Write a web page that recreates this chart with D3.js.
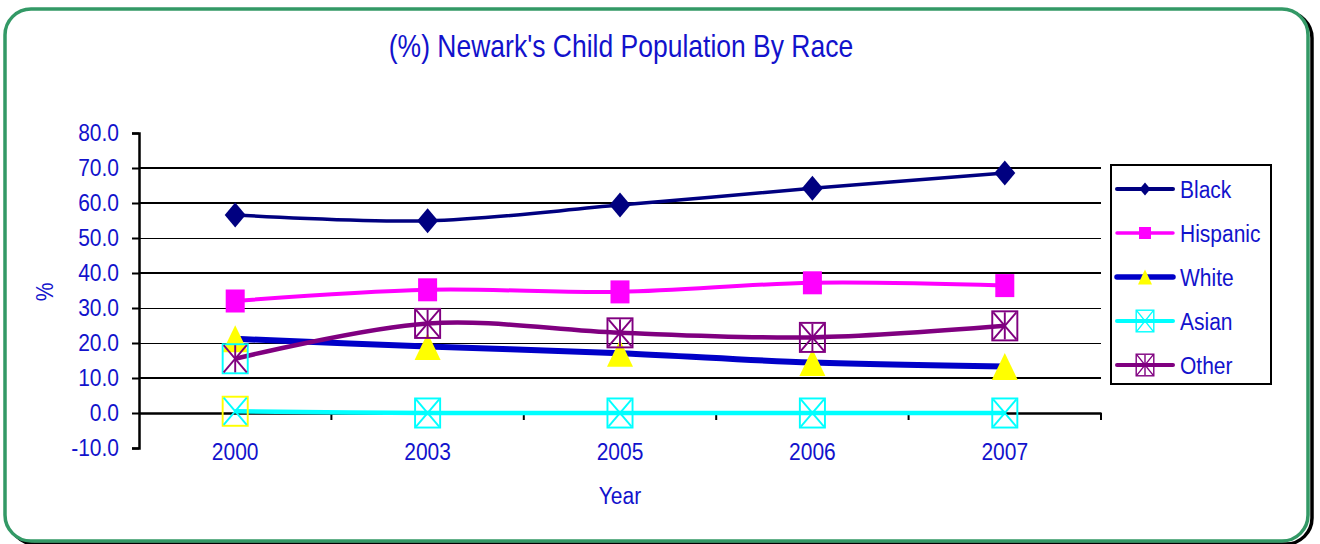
<!DOCTYPE html>
<html>
<head>
<meta charset="utf-8">
<script src="https://cdnjs.cloudflare.com/ajax/libs/d3/7.8.5/d3.min.js"></script>
<style>
  html, body { margin: 0; padding: 0; background: #ffffff; }
  svg { display: block; }
  text { font-family: "Liberation Sans", Arial, sans-serif; }
</style>
</head>
<body>
<svg id="chart" width="1320" height="544"></svg>
<script>
// ---- data ----
const years = ["2000", "2003", "2005", "2006", "2007"];
const black = [56.6, 54.9, 59.4, 64.2, 68.6];
const hispanic = [32.0, 35.2, 34.6, 37.2, 36.4];
const white = [21.2, 19.0, 17.1, 14.4, 13.3];
const asian = [0.5, 0.0, 0.0, 0.0, 0.0];
const other = [15.5, 25.6, 22.9, 21.6, 24.9];
const yTicks = [-10, 0, 10, 20, 30, 40, 50, 60, 70, 80];
const seriesNames = ["Black", "Hispanic", "White", "Asian", "Other"];

const titleText = "(%) Newark's Child Population By Race";
const xTitle = "Year";
const yTitle = "%";

// ---- styling ----
const TEXT_BLUE = "#1212CC";
const STRETCH = 1.15; // text is drawn slightly taller than wide

const styles = {
  Black:    { line: "#000080", width: 3.5, marker: "diamond",  fill: "#000080", edge: "#000080", size: [21, 25], lsize: [11, 13], lwidth: 4 },
  Hispanic: { line: "#FF00FF", width: 4,   marker: "square",   fill: "#FF00FF", edge: "#FF00FF", size: [19, 23], lsize: [12, 12], lwidth: 3.5 },
  White:    { line: "#0000C8", width: 6,   marker: "triangle", fill: "#FFFF00", edge: "#FFFF00", size: [26, 27], lsize: [14, 15], lwidth: 5.5 },
  Asian:    { line: "#00FFFF", width: 4.5, marker: "boxX",     fill: "none",    edge: "#00FFFF", size: [27, 31], lsize: [19, 23], lwidth: 4 },
  Other:    { line: "#800080", width: 4.5, marker: "boxStar",  fill: "none",    edge: "#800080", size: [27, 31], lsize: [19, 23], lwidth: 4 }
};
// a couple of points carry a differently coloured marker frame
const edgeOverrides = { Asian: { 0: "#FFFF00" }, Other: { 0: "#00FFFF" } };

const series = seriesNames.map((name, i) => ({ name, values: [black, hispanic, white, asian, other][i] }));

const svg = d3.select("#chart");

// ---- outer frame with shadow ----
const frame = { x: 5, y: 9, w: 1303, h: 532, r: 26 };
svg.append("rect")
  .attr("x", frame.x + 4).attr("y", frame.y + 3)
  .attr("width", frame.w).attr("height", frame.h)
  .attr("rx", frame.r).attr("ry", frame.r)
  .attr("fill", "none").attr("stroke", "#000").attr("stroke-width", 3.5);
svg.append("rect")
  .attr("x", frame.x).attr("y", frame.y)
  .attr("width", frame.w).attr("height", frame.h)
  .attr("rx", frame.r).attr("ry", frame.r)
  .attr("fill", "#fff").attr("stroke", "#339966").attr("stroke-width", 3.5);

function stretchedText(g, x, y, str, size, anchor, rotate) {
  return g.append("text")
    .attr("transform", `translate(${x},${y})` + (rotate ? ` rotate(${rotate})` : "") + ` scale(1,${STRETCH})`)
    .attr("text-anchor", anchor || "middle")
    .attr("dy", "0.35em")
    .attr("font-size", size)
    .attr("fill", TEXT_BLUE)
    .text(str);
}

// ---- title ----
stretchedText(svg, 621, 46, titleText, 26.5, "middle");

// ---- scales ----
const plot = { left: 139, right: 1101, top: 133, bottom: 448 };
const x = d3.scaleBand().domain(years).range([plot.left, plot.right]);
const y = d3.scaleLinear().domain([-10, 80]).range([plot.bottom, plot.top]);
const cx = d => x(d) + x.bandwidth() / 2;

// ---- gridlines ----
const gridG = svg.append("g");
yTicks.filter(v => v > 0 && v < 80).forEach(v => {
  const heavy = [70, 60, 40, 10].includes(v);
  const gy = Math.round(y(v)) + (heavy ? 0 : 0.5);
  gridG.append("line")
    .attr("x1", plot.left).attr("x2", plot.right)
    .attr("y1", gy).attr("y2", gy)
    .attr("stroke", "#000").attr("stroke-width", heavy ? 2 : 1);
});

// ---- y axis ----
const yAxis = svg.append("g")
  .attr("transform", `translate(${plot.left},0)`)
  .call(d3.axisLeft(y).tickValues(yTicks).tickSize(7).tickPadding(13).tickFormat(d => d.toFixed(1)));
yAxis.select(".domain").attr("stroke", "#000").attr("stroke-width", 2.5);
yAxis.selectAll(".tick line").attr("stroke", "#000").attr("stroke-width", 2);
yAxis.selectAll(".tick text")
  .attr("font-size", 21)
  .attr("font-family", "Liberation Sans, Arial, sans-serif")
  .attr("fill", TEXT_BLUE)
  .attr("dy", "0.33em")
  .attr("transform", `scale(1,${STRETCH})`);

// ---- x axis along zero ----
const xAxis = svg.append("g")
  .attr("transform", `translate(0,${y(0)})`)
  .call(d3.axisBottom(x).tickSize(0).tickPadding(26));
xAxis.select(".domain").attr("stroke", "#000").attr("stroke-width", 2.5);
xAxis.selectAll(".tick text")
  .attr("font-size", 21)
  .attr("font-family", "Liberation Sans, Arial, sans-serif")
  .attr("fill", TEXT_BLUE)
  .attr("dy", "0.71em")
  .attr("transform", `scale(1,${STRETCH})`);
// category boundary ticks
years.slice(1).map(d => x(d)).concat([plot.right]).forEach(bx => {
  svg.append("line")
    .attr("x1", bx).attr("x2", bx)
    .attr("y1", y(0)).attr("y2", y(0) + 7)
    .attr("stroke", "#000").attr("stroke-width", 2);
});

// ---- axis titles ----
stretchedText(svg, 620, 496, xTitle, 21, "middle");
stretchedText(svg, 45, 292, yTitle, 21, "middle", -90);

// ---- markers ----
function drawMarker(g, type, px, py, w, h, fill, edge) {
  const hw = w / 2, hh = h / 2;
  if (type === "diamond") {
    g.append("polygon")
      .attr("points", [[px, py - hh], [px + hw, py], [px, py + hh], [px - hw, py]].join(" "))
      .attr("fill", fill);
  } else if (type === "square") {
    g.append("rect").attr("x", px - hw).attr("y", py - hh).attr("width", w).attr("height", h).attr("fill", fill);
  } else if (type === "triangle") {
    g.append("polygon")
      .attr("points", [[px, py - hh], [px + hw, py + hh], [px - hw, py + hh]].join(" "))
      .attr("fill", fill);
  } else {
    const sw = Math.max(1.4, w / 14);
    g.append("rect").attr("x", px - hw + sw / 2).attr("y", py - hh + sw / 2)
      .attr("width", w - sw).attr("height", h - sw)
      .attr("fill", "none").attr("stroke", edge).attr("stroke-width", sw);
    const lines = [[px - hw + sw, py - hh + sw, px + hw - sw, py + hh - sw], [px - hw + sw, py + hh - sw, px + hw - sw, py - hh + sw]];
    if (type === "boxStar") lines.push([px, py - hh + sw, px, py + hh - sw]);
    lines.forEach(l => g.append("line")
      .attr("x1", l[0]).attr("y1", l[1]).attr("x2", l[2]).attr("y2", l[3])
      .attr("stroke", fill).attr("stroke-width", sw));
  }
}

// ---- series ----
const lineGen = d3.line()
  .x(d => cx(d.year))
  .y(d => y(d.value))
  .curve(d3.curveCatmullRom.alpha(0.5));

series.forEach(s => {
  const st = styles[s.name];
  const pts = years.map((yr, i) => ({ year: yr, value: s.values[i] }));
  const g = svg.append("g");
  g.append("path")
    .attr("d", lineGen(pts))
    .attr("fill", "none")
    .attr("stroke", st.line)
    .attr("stroke-width", st.width)
    .attr("stroke-linejoin", "round");
  pts.forEach((p, i) => {
    const edge = (edgeOverrides[s.name] && edgeOverrides[s.name][i]) || st.edge;
    const innerColor = st.marker.startsWith("box") ? st.line : st.fill;
    drawMarker(g, st.marker, cx(p.year), y(p.value), st.size[0], st.size[1], innerColor, edge);
  });
});

// ---- legend ----
const legend = svg.append("g");
legend.append("rect")
  .attr("x", 1111).attr("y", 165).attr("width", 160).attr("height", 219)
  .attr("fill", "#fff").attr("stroke", "#000").attr("stroke-width", 2);
series.forEach((s, i) => {
  const st = styles[s.name];
  const ly = 189 + i * 44;
  legend.append("line")
    .attr("x1", 1117).attr("x2", 1173).attr("y1", ly).attr("y2", ly)
    .attr("stroke", st.line).attr("stroke-width", st.lwidth).attr("stroke-linecap", "round");
  const innerColor = st.marker.startsWith("box") ? st.line : st.fill;
  drawMarker(legend, st.marker, 1145, ly, st.lsize[0], st.lsize[1], innerColor, st.edge);
  stretchedText(legend, 1180, ly + 1, s.name, 21, "start");
});
</script>
</body>
</html>
